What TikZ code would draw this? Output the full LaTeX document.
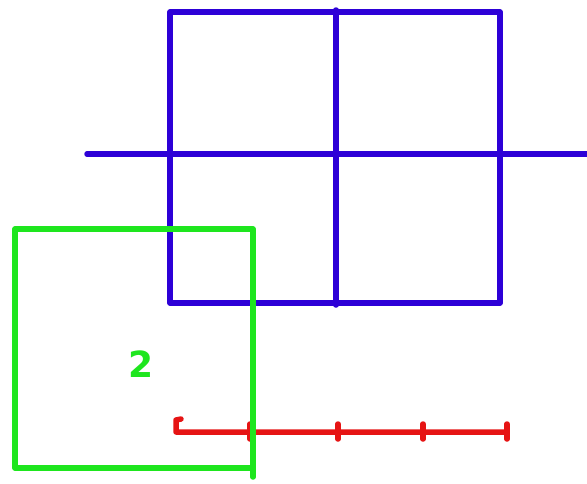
\documentclass[tikz,border=0pt]{standalone}
\usepackage{fontspec}
\setmainfont{DejaVu Sans}
\definecolor{penblue}{RGB}{45,0,215}
\definecolor{pengreen}{RGB}{30,230,30}
\definecolor{penred}{RGB}{230,20,20}
\begin{document}
\begin{tikzpicture}[x=1pt,y=-1pt,
  pen/.style={line width=5.5pt,line cap=round,line join=round}]
\useasboundingbox[fill=white] (0,0) rectangle (587,483);
% blue grid
\draw[pen,penblue] (170,12) rectangle (500,303);
\draw[pen,penblue] (336,10) -- (336,305);
\draw[pen,penblue] (87,154) -- (587,154);
% red ruler
\draw[pen,penred] (181,419) -- (176,420) -- (176,432) -- (507,432);
\foreach \x in {250,338,423,507}
  \draw[pen,penred] (\x,424) -- (\x,439);
% green square
\draw[pen,pengreen] (253,477) -- (253,229) -- (15,229) -- (15,468) -- (253,468);
\node[text=pengreen,font=\bfseries\fontsize{36}{40}\selectfont] (two) at (141,364) {2};
\end{tikzpicture}
\end{document}
